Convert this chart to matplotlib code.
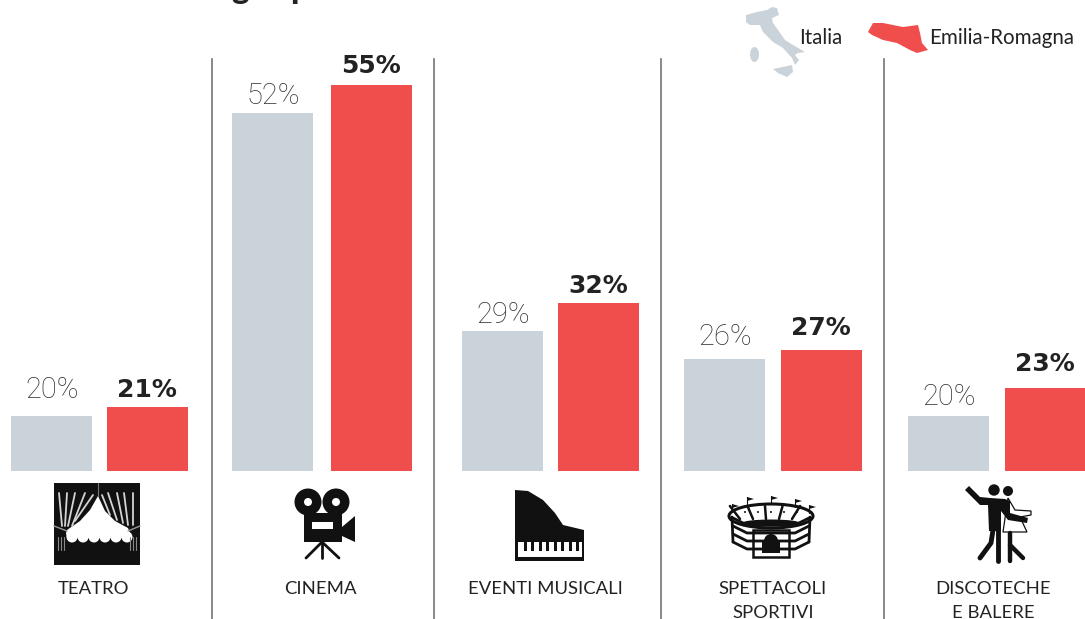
import matplotlib
matplotlib.use('Agg')
import matplotlib.pyplot as plt
from matplotlib.patches import Polygon, Circle, Ellipse, Rectangle

categories = ['TEATRO', 'CINEMA', 'EVENTI MUSICALI', 'SPETTACOLI\nSPORTIVI', 'DISCOTECHE\nE BALERE']
italia = [20, 52, 29, 26, 20]
emilia = [21, 55, 32, 27, 23]

GREY = '#cbd3da'
RED = '#f04e4c'
DARK = '#222222'
FONT = 'Lato'

# layout in pixels
W, H = 1085, 619
grey_left = [11, 232, 462, 684, 908]
red_left = [107, 331, 558, 781, 1005]
bar_w = 81
label_x = [94, 320, 545, 773, 993]
sep_x = [212, 433.5, 660.5, 883.5]
grey_gap = [26, 17, 16, 22, 19]   # value label centre above bar top
red_gap = [17, 19, 17, 22, 24]
base = 14.2   # the value axis does not start at zero
px_per_unit = 9.46
base_y = 471

fig = plt.figure(figsize=(W / 100, H / 100), dpi=100)

# value axes, covers whole figure
ax = fig.add_axes([0, 0, 1, 1])
ax.set_xlim(0, W)
ax.set_ylim(base - (H - base_y) / px_per_unit, base + base_y / px_per_unit)
ax.axis('off')

ax.bar(grey_left, [v - base for v in italia], bottom=base, width=bar_w, align='edge', color=GREY)
ax.bar(red_left, [v - base for v in emilia], bottom=base, width=bar_w, align='edge', color=RED)

for x, v, gap in zip(grey_left, italia, grey_gap):
    ax.annotate(f'{v}%', (x + bar_w / 2 + 0.5, v), xytext=(0, gap * 0.72), textcoords='offset points', ha='center',
                va='center', fontsize=21, family='Roboto', weight='light', color='#333333')
for x, v, gap in zip(red_left, emilia, red_gap):
    ax.annotate(f'{v}%', (x + bar_w / 2 - 0.5, v), xytext=(0, gap * 0.72), textcoords='offset points', ha='center',
                va='center', fontsize=18, family='DejaVu Sans', weight='bold', color=DARK)

# overlay in pixel coordinates for icons and labels
pa = fig.add_axes([0, 0, 1, 1])
pa.set_xlim(0, W)
pa.set_ylim(H, 0)
pa.axis('off')
pa.patch.set_alpha(0)


def poly(pts, color='#111111', **kw):
    pa.add_patch(Polygon(pts, closed=True, facecolor=color, edgecolor='none', **kw))


def rect(x0, y0, x1, y1, color='#111111'):
    pa.add_patch(Rectangle((x0, y0), x1 - x0, y1 - y0, facecolor=color, edgecolor='none'))


def seg(pts, color='#111111', lw=1.5):
    xs, ys = zip(*pts)
    pa.plot(xs, ys, color=color, lw=lw, solid_capstyle='round')


for x in sep_x:
    pa.plot([x, x], [59, 619], color='#6f767c', lw=1.2)

for x, name in zip(label_x, categories):
    pa.text(x, 581, name, ha='center', va='top', fontsize=13.3, family=FONT, color=DARK, linespacing=1.6)

# cut off title at the top of the picture
pa.text(240, -1, 'g', ha='center', va='baseline', fontsize=24, family=FONT, weight='black', color=DARK)
pa.text(300, -1, 'p', ha='center', va='baseline', fontsize=24, family=FONT, weight='black', color=DARK)

# legend
poly([(746, 15), (757, 12), (767, 10), (772, 7), (777, 8), (779, 15), (772, 18), (773, 23), (778, 30), (785, 40),
      (793, 45), (805, 52), (798, 53), (795, 55), (799, 60), (795, 65), (792, 58), (783, 48), (773, 42), (763, 32),
      (760, 25), (750, 25), (746, 22)], GREY)
pa.add_patch(Ellipse((754.5, 54.5), 9, 15, facecolor=GREY, edgecolor='none'))
poly([(773, 69), (792, 65), (793, 72), (787, 77), (778, 73)], GREY)
pa.text(799, 38, 'Italia', va='center', fontsize=14.8, family=FONT, color=DARK)
poly([(868, 32), (873, 23), (883, 23), (893, 25), (903, 27), (918, 25), (920, 33), (922, 43), (928, 50), (917, 53),
      (910, 50), (897, 43), (883, 40), (872, 35)], RED)
pa.text(929, 38, 'Emilia-Romagna', va='center', fontsize=14.8, family=FONT, color=DARK)

# teatro icon
rect(54, 483, 140, 565)
poly([(98, 496), (105, 511), (115, 521), (128, 528), (130, 533), (130, 538), (67, 538), (66, 533), (67, 530),
      (80, 521), (90, 510)], 'white')
for cx in range(72, 128, 11):
    pa.add_patch(Circle((cx, 537), 5.5, facecolor='white', edgecolor='none'))
for top, bot in [((59, 493), (62, 526)), ((67, 493), (65, 526)), ((75, 493), (68, 526)), ((85, 493), (72, 526)),
                 ((93, 495), (75, 521)), ((133, 493), (133, 525)), ((124, 493), (128, 525)),
                 ((117, 493), (123, 523)), ((108, 493), (117, 520)), ((102, 495), (110, 515))]:
    seg([top, bot], '#d5d5d5', 1.3)
seg([(54, 526), (67, 531)], '#999999', 1.0)
seg([(140, 526), (128, 531)], '#999999', 1.0)
seg([(97.5, 483), (97.5, 496)], '#777777', 0.8)
for x in [58, 61, 64, 130, 133, 136]:
    seg([(x, 537), (x, 550)], '#888888', 0.8)

# cinema icon
for cx in [308, 336]:
    pa.add_patch(Circle((cx, 502), 13.5, facecolor='#111111', edgecolor='none'))
    pa.add_patch(Circle((cx, 502), 4, facecolor='white', edgecolor='none'))
rect(304, 513, 342, 542)
rect(312, 522, 333, 529, 'white')
poly([(342, 527), (355, 516), (355, 542), (342, 536)])
seg([(322, 542), (306, 558)], lw=2)
seg([(322, 542), (322, 558)], lw=2)
seg([(322, 542), (339, 558)], lw=2)

# piano icon
poly([(515, 490), (528, 491), (543, 500), (555, 513), (563, 525), (584, 530), (584, 561), (515, 561)])
rect(518, 542, 582, 557, 'white')
for kx in [524, 531, 539, 546, 554, 561, 569, 576]:
    rect(kx, 542, kx + 2.5, 551)

# stadium icon
cx = 771
for sy in [522, 530, 538, 546]:
    seg([(cx - 38, sy - 4), (cx - 24, sy + 3), (cx + 24, sy + 3), (cx + 38, sy - 4)], lw=2)
seg([(cx - 39, 517), (cx - 38, 542)], lw=2)
seg([(cx + 39, 517), (cx + 38, 542)], lw=2)
pa.add_patch(Ellipse((cx, 516), 84, 24, facecolor='white', edgecolor='#111111', lw=2.2))
pa.add_patch(Ellipse((cx, 523), 58, 7, facecolor='#111111', edgecolor='none'))
for dx in [-26, -13, 0, 13, 26]:
    seg([(cx + dx * 1.35 - 6, 506), (cx + dx - 5, 519)], lw=1.8)
    pa.add_patch(Circle((cx + dx, 512), 1, facecolor='#111111', edgecolor='none'))
pa.add_patch(Rectangle((cx - 18, 530), 36, 27, facecolor='white', edgecolor='#111111', lw=1.8))
rect(cx - 9, 541, cx + 9, 553)
pa.add_patch(Circle((cx, 541), 7, facecolor='#111111', edgecolor='none'))
for fx, fy in [(-39, 504), (-24, 497), (0, 496), (24, 499), (38, 505)]:
    seg([(cx + fx, fy), (cx + fx, fy + 8)], lw=0.8)
    poly([(cx + fx, fy), (cx + fx + 7, fy + 2), (cx + fx, fy + 4)])

# dancers icon
pa.add_patch(Circle((994, 490), 5.7, facecolor='#111111', edgecolor='none'))
pa.add_patch(Circle((1008, 491), 5, facecolor='#111111', edgecolor='none'))
pa.add_patch(Polygon([(1008, 498), (1015, 510), (1031, 511), (1031, 515), (1020, 517), (1027, 532), (1003, 532)],
                     closed=True, facecolor='white', edgecolor='#111111', lw=0.9))
seg([(1010, 533), (1010, 561)], lw=3.2)
seg([(1010, 545), (1023, 558)], lw=3.2)
poly([(965, 490), (969, 486), (980, 497), (990, 498), (1005, 499), (1010, 501), (1010, 513), (1028, 518),
      (1027, 523), (1008, 520), (1001, 511), (1001, 531), (989, 531), (988, 505), (980, 505)])
seg([(993, 530), (991, 543), (980, 558)], lw=3.5)
seg([(998, 530), (998, 561)], lw=3.5)

fig.savefig('out.png', dpi=100)
